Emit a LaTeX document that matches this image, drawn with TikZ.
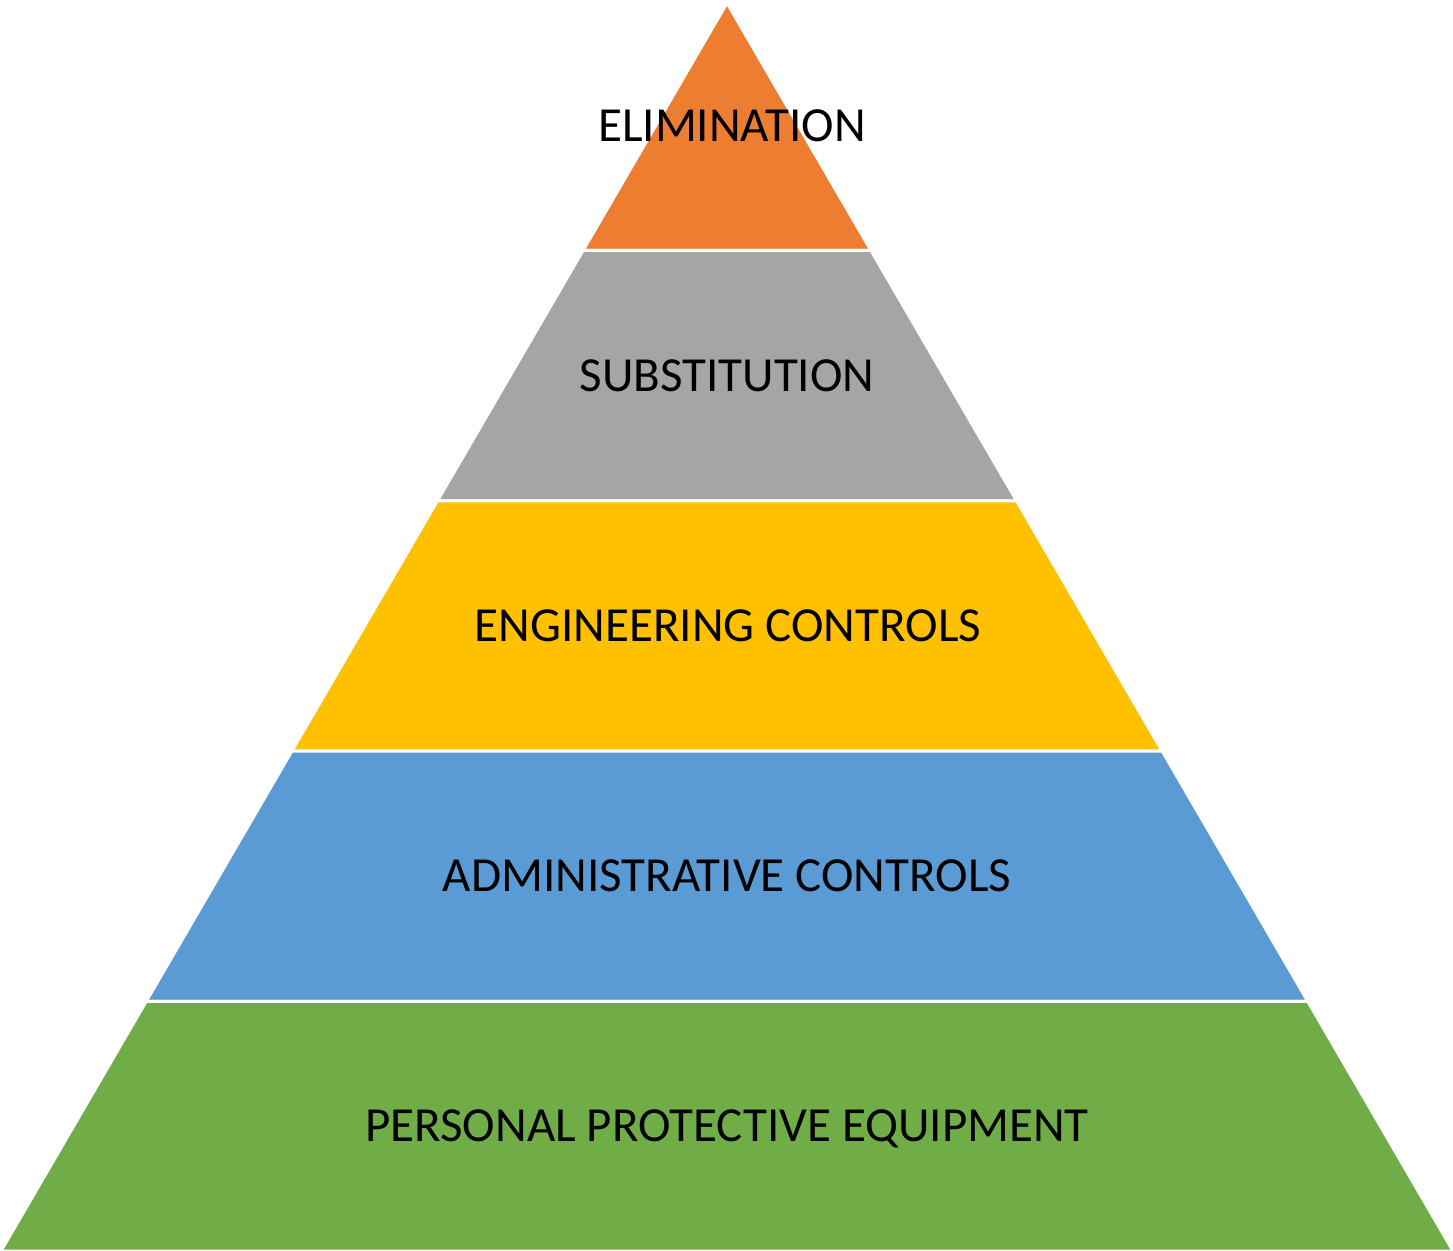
\documentclass[tikz,border=0pt]{standalone}
\usepackage{fontspec}
\setmainfont{Carlito}
\usetikzlibrary{positioning, calc}

\definecolor{elimcol}{HTML}{ED7D31}
\definecolor{substcol}{HTML}{A5A5A5}
\definecolor{engcol}{HTML}{FFC000}
\definecolor{admincol}{HTML}{5B9BD5}
\definecolor{ppecol}{HTML}{70AD47}

\tikzset{
  tier/.style={draw=white, line width=3pt, line join=round},
  tierlabel/.style={font=\fontsize{49}{56}\selectfont, text=black, anchor=base, inner sep=0pt}
}

\begin{document}
\begin{tikzpicture}[x=1pt, y=-1pt]
                  \useasboundingbox (0,0) rectangle (1453,1250);
                  % Outline of the pyramid
                  \coordinate (apex) at (727,3);
                  \coordinate (baseL) at (1,1251);
                  \coordinate (baseR) at (1453,1251);

                  % Tiers
                  \foreach \t/\b/\c in {0/0.1983/elimcol, 0.1983/0.3989/substcol,
                                        0.3989/0.5994/engcol, 0.5994/0.8/admincol,
                                        0.8/1/ppecol}
                  \filldraw[tier, fill=\c] ($(apex)!\t!(baseL)$) -- ($(apex)!\t!(baseR)$)
                        -- ($(apex)!\b!(baseR)$) -- ($(apex)!\b!(baseL)$) -- cycle;

                  % Labels
                  \node[tierlabel] (elim) at (732,141) {ELIMINATION};
                  \node[tierlabel] (subst) at (727,391) {SUBSTITUTION};
                  \node[tierlabel] (eng) at (728,641) {ENGINEERING CONTROLS};
                  \node[tierlabel] (admin) at (727,891) {ADMINISTRATIVE CONTROLS};
                  \node[tierlabel] (ppe) at (727,1141) {PERSONAL PROTECTIVE EQUIPMENT};
              \end{tikzpicture}
\end{document}
